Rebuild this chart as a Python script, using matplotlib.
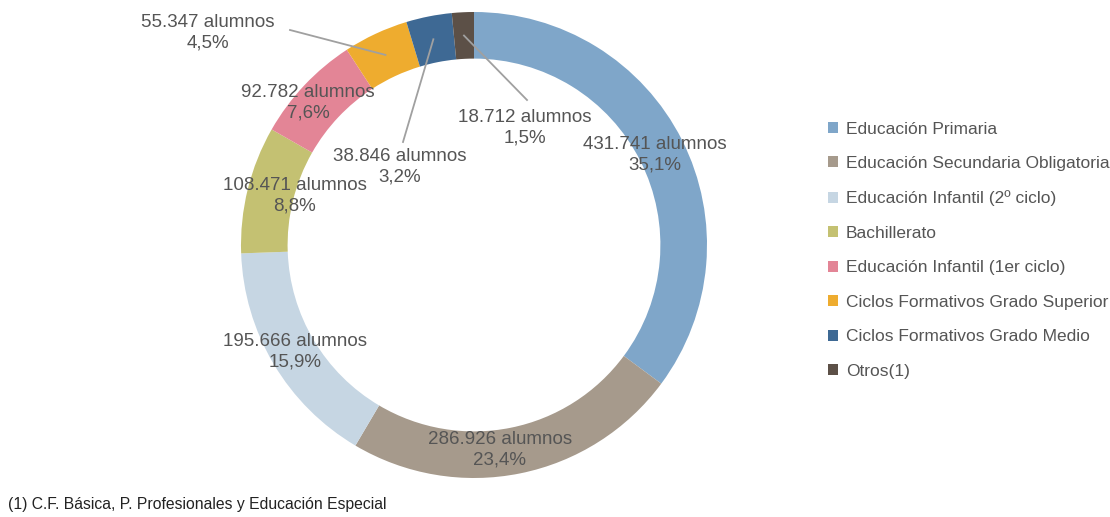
import numpy as np
import matplotlib.pyplot as plt
from matplotlib.patches import Patch

# Data
categorias = [
    "Educación Primaria",
    "Educación Secundaria Obligatoria",
    "Educación Infantil (2º ciclo)",
    "Bachillerato",
    "Educación Infantil (1er ciclo)",
    "Ciclos Formativos Grado Superior",
    "Ciclos Formativos Grado Medio",
    "Otros(1)",
]
alumnos = [431741, 286926, 195666, 108471, 92782, 55347, 38846, 18712]
porcentajes = ["35,1%", "23,4%", "15,9%", "8,8%", "7,6%", "4,5%", "3,2%", "1,5%"]
colores = ["#7fa6c9", "#a69a8c", "#c6d6e3", "#c4c172",
           "#e38596", "#eeac2f", "#3e6994", "#5c5047"]
nota = "(1) C.F. Básica, P. Profesionales y Educación Especial"

W, H = 1110, 517
cx, cy, R = 474, 245, 233
txt_color = "#555555"
fam = ["Liberation Sans", "DejaVu Sans"]


def px(x, y):
    # pixel position -> data units (1 = outer radius)
    return ((x - cx) / R, (cy - y) / R)


fig = plt.figure(figsize=(W / 100, H / 100), dpi=100)
ax = fig.add_axes([0, 0, 1, 1])

wedges, _ = ax.pie(alumnos, colors=colores, startangle=90, counterclock=False,
                   radius=1.0, wedgeprops=dict(width=0.2, edgecolor="none"))
# pie resets the limits, so set them afterwards
ax.set_xlim(-cx / R, (W - cx) / R)
ax.set_ylim(-(H - cy) / R, cy / R)
ax.axis("off")

# label text positions (pixels) and optional leader line start
label_pos = [(655, 155), (500, 450), (295, 352), (295, 196),
             (308, 103), (208, 33), (400, 167), (525, 128)]
leader_from = [None, None, None, None, None, (290, 30), (403, 142), (527, 100)]

for i, w in enumerate(wedges):
    txt = f"{alumnos[i]:,}".replace(",", ".") + " alumnos\n" + porcentajes[i]
    x, y = px(*label_pos[i])
    ax.text(x, y, txt, ha="center", va="center", fontsize=13.5,
            color=txt_color, family=fam, linespacing=1.3)
    if leader_from[i] is not None:
        ang = np.deg2rad((w.theta1 + w.theta2) / 2)
        ex, ey = 0.9 * np.cos(ang), 0.9 * np.sin(ang)
        sx, sy = px(*leader_from[i])
        ax.plot([sx, ex], [sy, ey], color="#a0a0a0", lw=1.3)

handles = [Patch(facecolor=c, edgecolor="none") for c in colores]
leg = fig.legend(handles, categorias, loc="upper left",
                 bbox_to_anchor=(812 / W, 1 - 106 / H), frameon=False,
                 handlelength=0.6, handleheight=0.6, handletextpad=0.45,
                 labelspacing=1.12, prop={"family": fam, "size": 12.5})
for t in leg.get_texts():
    t.set_color(txt_color)

fig.text(8 / W, 1 - 505 / H, nota, ha="left", va="center", fontsize=11.3,
         color="#222222", family=fam)

fig.savefig("out.png", dpi=100)
